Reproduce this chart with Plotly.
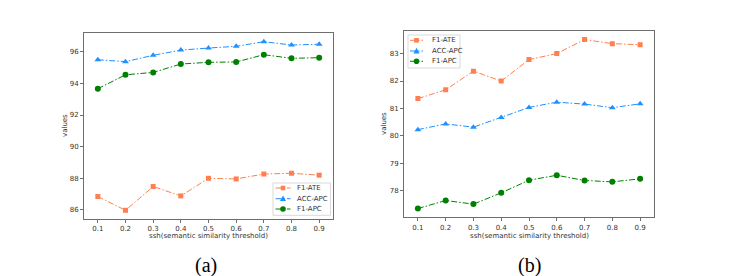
import plotly.graph_objects as go

ssh = [0.1, 0.2, 0.3, 0.4, 0.5, 0.6, 0.7, 0.8, 0.9]
tick_labels = ["0.1", "0.2", "0.3", "0.4", "0.5", "0.6", "0.7", "0.8", "0.9"]

# panel (a)
a_f1_ate = [86.85, 85.98, 87.48, 86.89, 88.00, 87.96, 88.27, 88.32, 88.20]
a_acc_apc = [95.49, 95.37, 95.77, 96.10, 96.23, 96.34, 96.63, 96.42, 96.47]
a_f1_apc = [93.66, 94.54, 94.69, 95.22, 95.33, 95.35, 95.81, 95.58, 95.62]

# panel (b)
b_f1_ate = [81.36, 81.68, 82.36, 82.00, 82.78, 83.00, 83.51, 83.36, 83.32]
b_acc_apc = [80.23, 80.44, 80.32, 80.67, 81.04, 81.23, 81.16, 81.03, 81.17]
b_f1_apc = [77.36, 77.65, 77.52, 77.93, 78.39, 78.57, 78.38, 78.33, 78.44]

series_names = ["F1-ATE", "ACC-APC", "F1-APC"]
colors = ["#ff7f50", "#1e90ff", "#008000"]
symbols = ["square", "triangle-up", "circle"]
msizes = [5, 6, 6]
DASH = "6px,2px,1.5px,2px"

W, H = 744, 276

fig = go.Figure()
for k, vals in enumerate([a_f1_ate, a_acc_apc, a_f1_apc]):
    fig.add_trace(go.Scatter(x=ssh, y=vals, name=series_names[k], mode="lines+markers",
                             line=dict(color=colors[k], width=1, dash=DASH),
                             marker=dict(symbol=symbols[k], color=colors[k], size=msizes[k], line=dict(width=0)),
                             xaxis="x", yaxis="y", showlegend=False))
for k, vals in enumerate([b_f1_ate, b_acc_apc, b_f1_apc]):
    fig.add_trace(go.Scatter(x=ssh, y=vals, name=series_names[k], mode="lines+markers",
                             line=dict(color=colors[k], width=1, dash=DASH),
                             marker=dict(symbol=symbols[k], color=colors[k], size=msizes[k], line=dict(width=0)),
                             xaxis="x2", yaxis="y2", showlegend=False))

frame = "#6e6e6e"
tickfont = dict(family="DejaVu Sans", size=7, color="#333333")

def xax(domain, anchor):
    return dict(domain=domain, anchor=anchor, range=[0.05, 0.95], tickvals=ssh, ticktext=tick_labels,
                showgrid=False, zeroline=False, showline=True, linecolor=frame, linewidth=1, mirror=True,
                ticks="outside", ticklen=3, tickcolor=frame, tickfont=tickfont)

def yax(domain, anchor, rng, tv):
    return dict(domain=domain, anchor=anchor, range=rng, tickvals=tv,
                showgrid=False, zeroline=False, showline=True, linecolor=frame, linewidth=1, mirror=True,
                ticks="outside", ticklen=3, tickcolor=frame, tickfont=tickfont)

fig.update_layout(
    width=W, height=H, margin=dict(l=0, r=0, t=0, b=0),
    paper_bgcolor="white", plot_bgcolor="white", showlegend=False,
    xaxis=xax([76 / W, 325 / W], "y"),
    yaxis=yax([1 - 211 / H, 1 - 25 / H], "x", [85.43, 97.18], [86, 88, 90, 92, 94, 96]),
    xaxis2=xax([396 / W, 646 / W], "y2"),
    yaxis2=yax([1 - 209.3 / H, 1 - 23.3 / H], "x2", [77.04, 83.81], [78, 79, 80, 81, 82, 83]),
)

def px(x):
    return x / W

def py(y):
    return 1 - y / H

lab = dict(family="DejaVu Sans", size=7, color="#333333")

# hand-drawn legends (matplotlib style, compact)
def draw_legend(x0, y0, x1, y1, rows_y, line_x0, line_x1, text_x):
    fig.add_shape(type="rect", xref="paper", yref="paper", x0=px(x0), x1=px(x1), y0=py(y1), y1=py(y0),
                  line=dict(color="#d9d9d9", width=1), fillcolor="rgba(255,255,255,0.85)", layer="above")
    mx = (line_x0 + line_x1) / 2
    for k, ry in enumerate(rows_y):
        fig.add_shape(type="line", xref="paper", yref="paper", x0=px(line_x0), x1=px(line_x1), y0=py(ry), y1=py(ry),
                      line=dict(color=colors[k], width=1, dash=DASH), layer="above")
        if symbols[k] == "square":
            s = 2.3
            fig.add_shape(type="rect", xref="paper", yref="paper", x0=px(mx - s), x1=px(mx + s),
                          y0=py(ry + s), y1=py(ry - s), line=dict(width=0), fillcolor=colors[k], layer="above")
        elif symbols[k] == "circle":
            s = 2.8
            fig.add_shape(type="circle", xref="paper", yref="paper", x0=px(mx - s), x1=px(mx + s),
                          y0=py(ry + s), y1=py(ry - s), line=dict(width=0), fillcolor=colors[k], layer="above")
        else:
            s = 3.0
            path = "M %f,%f L %f,%f L %f,%f Z" % (px(mx - s), py(ry + s * 0.8), px(mx + s), py(ry + s * 0.8),
                                                  px(mx), py(ry - s * 1.1))
            fig.add_shape(type="path", xref="paper", yref="paper", path=path, line=dict(width=0),
                          fillcolor=colors[k], layer="above")
        fig.add_annotation(text=series_names[k], x=px(text_x), y=py(ry), xref="paper", yref="paper",
                           showarrow=False, font=lab, xanchor="left", yanchor="middle")

draw_legend(265, 175, 322.5, 207.3, [180, 190.7, 201], 267.5, 282.5, 287)
draw_legend(400, 27, 452, 60, [32.3, 43, 53.3], 402, 415, 421.5)

fig.add_annotation(text="ssh(semantic similarity threshold)", x=px(200), y=py(228), xref="paper", yref="paper",
                   showarrow=False, font=lab, xanchor="center", yanchor="middle")
fig.add_annotation(text="ssh(semantic similarity threshold)", x=px(521), y=py(228), xref="paper", yref="paper",
                   showarrow=False, font=lab, xanchor="center", yanchor="middle")
fig.add_annotation(text="values", x=px(57), y=py(118), xref="paper", yref="paper", textangle=-90,
                   showarrow=False, font=lab, xanchor="center", yanchor="middle")
fig.add_annotation(text="values", x=px(376), y=py(116), xref="paper", yref="paper", textangle=-90,
                   showarrow=False, font=lab, xanchor="center", yanchor="middle")
cap = dict(family="Liberation Serif", size=20, color="black")
fig.add_annotation(text="(a)", x=px(198), y=py(257), xref="paper", yref="paper",
                   showarrow=False, font=cap, xanchor="center", yanchor="middle")
fig.add_annotation(text="(b)", x=px(521), y=py(257), xref="paper", yref="paper",
                   showarrow=False, font=cap, xanchor="center", yanchor="middle")

fig.write_html("out.html")
